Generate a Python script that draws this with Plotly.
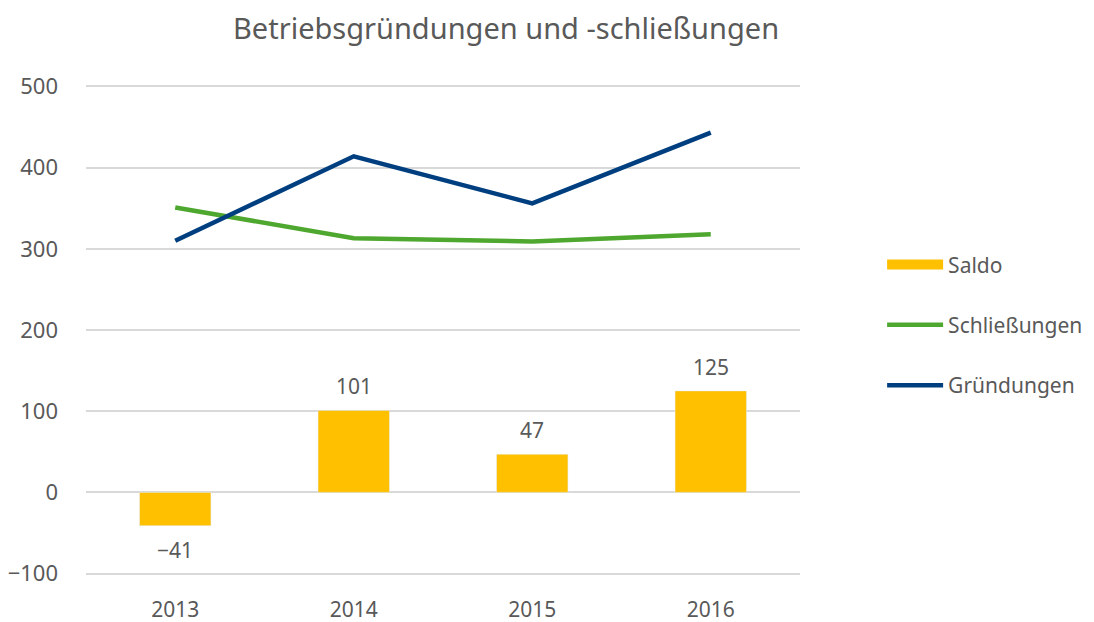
import plotly.graph_objects as go

years = ["2013", "2014", "2015", "2016"]
saldo = [-41, 101, 47, 125]
schliessungen = [351, 313, 309, 318]
gruendungen = [310, 414, 356, 443]

FONT = "Noto Sans"
GREY = "#595959"
YELLOW = "#FFC000"

# page body has an 8px margin; figure is sized/offset to compensate
W, H = 1086, 614

fig = go.Figure()
fig.add_trace(go.Bar(
    x=years, y=saldo, name="Saldo", marker_color=YELLOW, width=0.4,
    showlegend=False, legendgroup="a",
))
# legend swatch for Saldo (wide rectangle as in the original)
fig.add_trace(go.Scatter(
    x=[None], y=[None], name="Saldo", mode="lines",
    line=dict(color=YELLOW, width=16), legendgroup="a",
))
fig.add_trace(go.Scatter(
    x=years, y=schliessungen, name="Schließungen", mode="lines",
    line=dict(color="#4EA72E", width=4.5), legendgroup="b",
))
fig.add_trace(go.Scatter(
    x=years, y=gruendungen, name="Gründungen", mode="lines",
    line=dict(color="#003F7F", width=4.5), legendgroup="c",
))

for i, v in enumerate(saldo):
    fig.add_annotation(
        x=i, y=v, xref="x", yref="y", text=str(v).replace("-", "−"), showarrow=False,
        yshift=24 if v >= 0 else -24,
        font=dict(size=21, color=GREY, family=FONT),
    )

fig.update_layout(
    width=W, height=H,
    margin=dict(l=78, r=294, t=75.6, b=45.6, autoexpand=False),
    paper_bgcolor="white", plot_bgcolor="white",
    font=dict(family=FONT, size=21, color=GREY),
    title=dict(text="Betriebsgründungen und -schließungen", x=0.4586, xanchor="center",
               y=0.9655, yanchor="middle", font=dict(size=29, color=GREY, family=FONT)),
    showlegend=True,
    legend=dict(x=1.115, xanchor="left", y=0.674, yanchor="top",
                tracegroupgap=30, font=dict(size=21, color=GREY, family=FONT),
                itemwidth=56),
    xaxis=dict(type="category", range=[-0.5, 3.5], showgrid=False, showline=False,
               ticks="", ticklabelstandoff=19, automargin=False,
               tickfont=dict(size=21, color=GREY)),
    yaxis=dict(range=[-103, 503], dtick=100, tick0=0, showgrid=True, gridcolor="#D9D9D9",
               gridwidth=1.5, zeroline=True, zerolinecolor="#D9D9D9", zerolinewidth=1.5,
               showline=False, ticks="", ticklabelstandoff=27, automargin=False,
               tickfont=dict(size=22, color=GREY)),
    bargap=0.6,
)

fig.write_html("out.html")
